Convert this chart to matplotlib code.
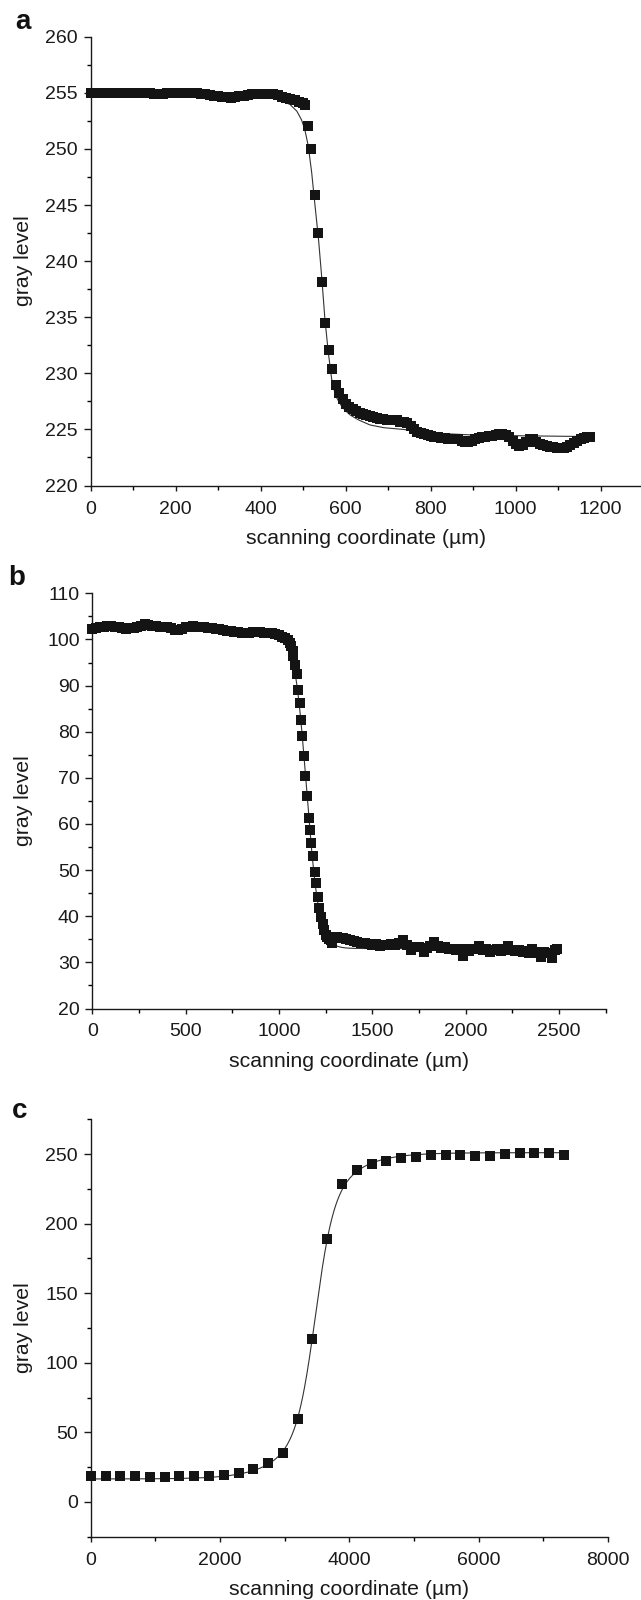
import numpy as np
import matplotlib
matplotlib.use("Agg")
import matplotlib.pyplot as plt
from matplotlib.ticker import MultipleLocator

plt.rcParams['font.family'] = ['Liberation Sans', 'DejaVu Sans']

# ---- panel a: gray level profile (scan step ~8 um in the edge, thinned on plateaus)
a_x = [0, 10, 20, 30, 40, 50, 60, 70, 80, 90, 100, 110, 120, 130, 140, 150, 160, 170,
       180, 190, 200, 210, 220, 230, 240, 250, 260, 270, 280, 290, 300, 310, 320, 330,
       340, 350, 360, 370, 380, 390, 400, 410, 420, 430, 440, 450, 460, 470, 480, 490,
       500, 505, 512, 518, 528, 536, 544, 552, 561, 568, 577, 585, 593, 601, 609, 617,
       625, 633, 641, 649, 657, 665, 673, 681, 689, 697, 705, 713, 721, 729, 737, 745,
       753, 761, 769, 777, 785, 793, 801, 809, 817, 825, 833, 841, 849, 857, 865, 873,
       881, 889, 897, 905, 913, 921, 929, 937, 945, 953, 961, 969, 977, 985, 993, 1001,
       1009, 1017, 1025, 1033, 1041, 1049, 1057, 1065, 1073, 1081, 1089, 1097, 1105,
       1113, 1121, 1129, 1137, 1145, 1153, 1161, 1169, 1175]
a_y = [255.0, 255.0, 255.0, 255.0, 255.0, 255.0, 255.0, 255.0, 255.0, 255.0, 255.0, 255.0,
       255.0, 254.95, 254.95, 254.9, 254.9, 254.9, 254.95, 255.0, 255.0, 255.0, 255.0,
       255.0, 255.0, 254.95, 254.9, 254.85, 254.8, 254.75, 254.7, 254.65, 254.6, 254.55,
       254.6, 254.7, 254.75, 254.8, 254.85, 254.9, 254.85, 254.85, 254.9, 254.9, 254.8,
       254.65, 254.55, 254.45, 254.35, 254.2, 254.1, 253.9, 252.0, 249.95, 245.9, 242.5,
       238.1, 234.5, 232.1, 230.4, 229.0, 228.2, 227.7, 227.3, 227.0, 226.8, 226.6, 226.5,
       226.4, 226.3, 226.2, 226.1, 226.0, 225.9, 225.9, 225.8, 225.8, 225.8, 225.8, 225.7,
       225.7, 225.6, 225.3, 225.0, 224.8, 224.7, 224.6, 224.5, 224.4, 224.3, 224.3, 224.2,
       224.2, 224.1, 224.1, 224.1, 224.1, 224.0, 223.9, 223.9, 224.0, 224.1, 224.2, 224.3,
       224.3, 224.4, 224.4, 224.5, 224.6, 224.6, 224.5, 224.3, 224.0, 223.7, 223.5, 223.6,
       223.9, 224.1, 224.1, 223.9, 223.7, 223.6, 223.5, 223.4, 223.4, 223.3, 223.3, 223.3,
       223.4, 223.6, 223.8, 224.0, 224.1, 224.2, 224.3, 224.3]
# fitted curve of panel a
a_fit_x = [0, 300, 380, 422, 445, 469, 485, 496, 504, 512, 520, 528, 536, 544, 551, 559,
           567, 573, 579, 590, 600, 610, 630, 657, 690, 735, 814, 900, 971, 1175]
a_fit_y = [255.0, 254.9, 254.75, 254.56, 254.35, 253.96, 253.37, 252.6, 251.7, 250.26,
           247.9, 244.9, 242.0, 238.4, 234.9, 231.9, 229.5, 228.5, 227.8, 227.1, 226.65,
           226.3, 225.85, 225.4, 225.15, 225.0, 224.65, 224.5, 224.45, 224.36]

# ---- panel b
b_x = [0, 20, 40, 60, 80, 100, 120, 140, 160, 180, 200, 220, 240, 260, 280, 300, 320,
       340, 360, 380, 400, 420, 440, 460, 480, 500, 520, 540, 560, 580, 600, 620, 640,
       660, 680, 700, 720, 740, 760, 780, 800, 820, 840, 860, 880, 900, 920, 940, 960,
       980, 1000, 1016, 1032, 1049, 1057, 1064, 1072, 1077, 1085, 1094, 1103, 1111, 1118,
       1124, 1132, 1141, 1150, 1158, 1165, 1172, 1181, 1190, 1198, 1207, 1216, 1225, 1233,
       1242, 1251, 1259, 1268, 1276, 1284, 1295, 1310, 1325, 1340, 1360, 1380, 1400, 1420,
       1440, 1460, 1480, 1500, 1520, 1540, 1560, 1580, 1600, 1620, 1640, 1664, 1685, 1708,
       1730, 1752, 1774, 1795, 1810, 1829, 1850, 1870, 1890, 1910, 1930, 1950, 1965, 1983,
       2000, 2020, 2040, 2055, 2071, 2090, 2110, 2130, 2150, 2170, 2190, 2210, 2225, 2245,
       2265, 2285, 2305, 2325, 2340, 2357, 2375, 2390, 2401, 2420, 2440, 2460, 2478, 2490]
b_y = [102.3, 102.5, 102.7, 102.8, 102.9, 102.9, 102.8, 102.7, 102.4, 102.3, 102.5, 102.4,
       102.6, 103.0, 103.3, 103.1, 102.9, 102.9, 102.8, 102.8, 102.6, 102.4, 102.1, 102.0,
       102.3, 102.6, 102.8, 102.9, 102.8, 102.8, 102.6, 102.5, 102.4, 102.3, 102.2, 102.0,
       101.8, 101.8, 101.7, 101.6, 101.5, 101.4, 101.5, 101.6, 101.6, 101.6, 101.5, 101.3,
       101.3, 101.1, 100.9, 100.6, 100.3, 99.9, 99.2, 98.6, 97.4, 96.5, 94.4, 92.4, 89.0,
       86.3, 82.6, 79.0, 74.7, 70.5, 66.0, 61.3, 58.7, 55.9, 53.0, 49.5, 47.1, 44.2, 41.8,
       39.9, 38.3, 37.0, 35.9, 35.5, 35.1, 34.8, 34.1, 35.3, 35.6, 35.3, 35.2, 35.0, 34.9,
       34.7, 34.5, 34.2, 34.3, 33.9, 33.8, 34.0, 33.6, 33.7, 33.8, 34.0, 33.7, 34.1, 34.8,
       33.8, 32.6, 33.4, 33.3, 32.3, 33.2, 33.6, 34.5, 33.6, 33.1, 33.3, 32.8, 33.0, 32.6,
       32.8, 31.4, 32.9, 32.5, 32.8, 33.0, 33.6, 32.6, 32.9, 32.3, 32.7, 32.9, 32.5, 32.8,
       33.6, 32.6, 32.4, 32.7, 32.2, 32.5, 32.0, 32.9, 32.3, 32.0, 31.2, 32.3, 32.1, 31.0,
       32.6, 33.0]
b_fit = dict(A1=102.3, A2=33.0, x0=1147.0, parts=[(1.0, 33.6)])

# ---- panel c
c_x = [0, 229, 457, 686, 915, 1143, 1372, 1601, 1830, 2058, 2287, 2516, 2744, 2973,
       3202, 3430, 3659, 3888, 4116, 4345, 4574, 4803, 5031, 5260, 5489, 5717, 5946,
       6175, 6404, 6632, 6861, 7090, 7318]
c_y = [18.3, 18.7, 18.3, 18.3, 17.8, 17.8, 18.3, 18.5, 18.5, 19.5, 21.1, 23.5, 27.8,
       35.0, 59.4, 117.1, 188.7, 228.7, 238.5, 243.1, 245.2, 246.9, 248.1, 249.3, 249.5,
       249.3, 248.8, 248.8, 249.8, 250.5, 250.5, 250.5, 249.5]
# two-component Boltzmann fit: (weight, width)
c_fit = dict(A1=16.5, A2=251.0, x0=3475.0, parts=[(0.7, 140.0), (0.3, 400.0)])

x_label = "scanning coordinate (\u00b5m)"
y_label = "gray level"

W, H = 641, 1600
fig = plt.figure(figsize=(W / 100, H / 100), dpi=100)


def boltzmann(x, A1, A2, x0, parts):
    frac = sum(w / (1 + np.exp(-(x - x0) / d)) for w, d in parts)
    return A1 + (A2 - A1) * frac


def make_axes(left, right, top, bottom):
    return fig.add_axes([left / W, 1 - bottom / H, (right - left) / W, (bottom - top) / H])


def style(ax, xlim, ylim, xmaj, xmin, ymaj, ymin, ylab_x):
    ax.set_xlim(*xlim)
    ax.set_ylim(*ylim)
    ax.xaxis.set_major_locator(MultipleLocator(xmaj))
    ax.xaxis.set_minor_locator(MultipleLocator(xmin))
    ax.yaxis.set_major_locator(MultipleLocator(ymaj))
    ax.yaxis.set_minor_locator(MultipleLocator(ymin))
    for s in ['top', 'right']:
        ax.spines[s].set_visible(False)
    for s in ['left', 'bottom']:
        ax.spines[s].set_linewidth(1.0)
        ax.spines[s].set_color('#1a1a1a')
    ax.tick_params(axis='y', which='major', length=5.2, width=1.0, pad=4, labelsize=14, colors='#1a1a1a')
    ax.tick_params(axis='y', which='minor', length=2.9, width=1.0)
    ax.tick_params(axis='x', which='major', length=3.8, width=1.0, pad=7, labelsize=14, colors='#1a1a1a')
    ax.tick_params(axis='x', which='minor', length=2.6, width=1.0)
    ax.set_xlabel(x_label, fontsize=15.3, color='#1a1a1a', labelpad=8)
    ax.set_ylabel(y_label, fontsize=15.3, color='#1a1a1a')
    bb = ax.get_position()
    ax.yaxis.set_label_coords((ylab_x / W - bb.x0) / bb.width, 0.5)
    ax.patch.set_visible(False)


def draw(ax, xs, ys, line_x, line_y, ms):
    ax.plot(line_x, line_y, color='#333333', lw=0.8, zorder=2)
    ax.plot(xs, ys, 's', color='#141414', ms=ms, mew=0, zorder=3, clip_on=False)


ax_a = make_axes(90.7, 641, 36.7, 485.5)
draw(ax_a, a_x, a_y, a_fit_x, a_fit_y, 7.2)
style(ax_a, (0, 1295), (220, 260), 200, 100, 5, 2.5, 33)

ax_b = make_axes(92.5, 605.7, 593.3, 1008.5)
bx = np.linspace(b_x[0], b_x[-1], 800)
draw(ax_b, b_x, b_y, bx, boltzmann(bx, **b_fit), 6.8)
style(ax_b, (0, 2750), (20, 110), 500, 250, 10, 5, 33)

ax_c = make_axes(90.7, 608, 1119.3, 1536.7)
cx = np.linspace(c_x[0], c_x[-1], 800)
draw(ax_c, c_x, c_y, cx, boltzmann(cx, **c_fit), 7.3)
style(ax_c, (0, 8000), (-25, 275), 2000, 1000, 50, 25, 33)
ax_c.set_yticks([0, 50, 100, 150, 200, 250])

for letter, (lx, ly) in zip("abc", [(23, 22), (17, 578), (20, 1111)]):
    fig.text(lx / W, 1 - ly / H, letter, fontsize=20, fontweight='bold',
             ha='center', va='center', color='#111111')

fig.savefig("out.png", dpi=100)
